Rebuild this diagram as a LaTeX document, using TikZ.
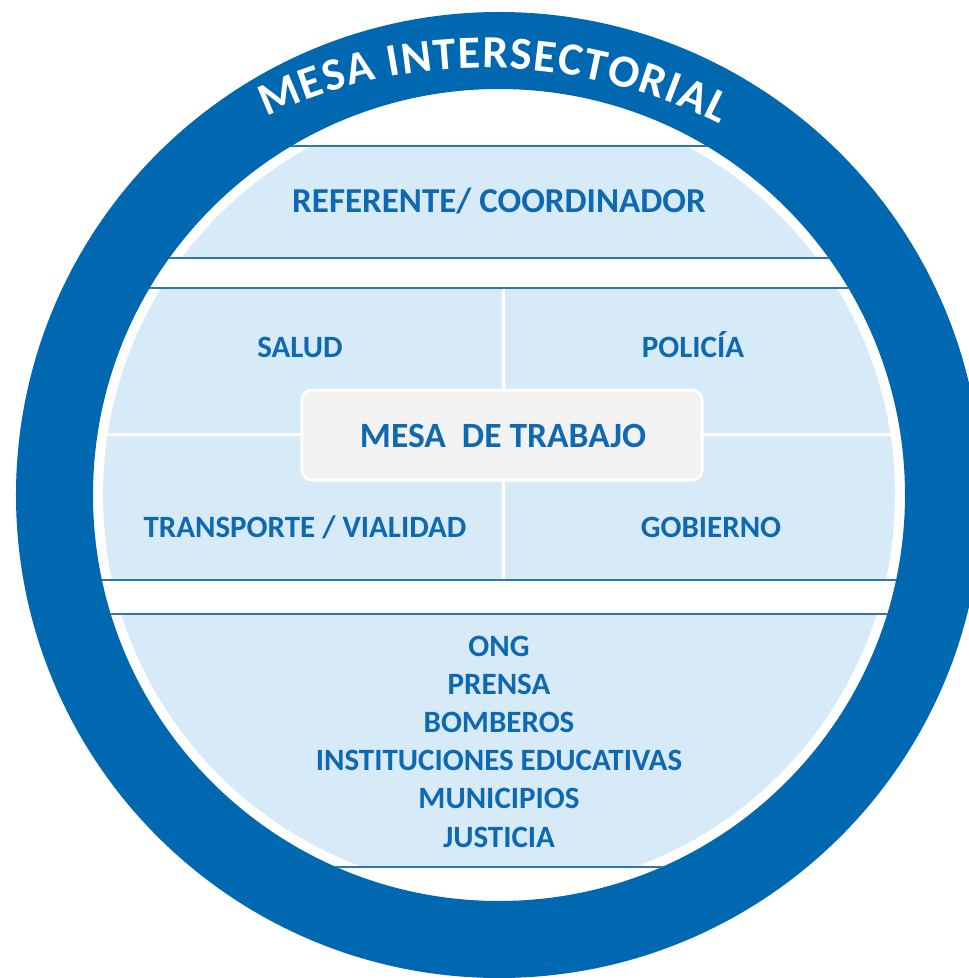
\documentclass[tikz,border=0pt]{standalone}
\usepackage{fontspec}
\setmainfont{Carlito}
\usetikzlibrary{calc,decorations.text}
\definecolor{ringblue}{RGB}{0,103,177}
\definecolor{bandblue}{RGB}{214,234,248}
\definecolor{lineblue}{RGB}{46,117,182}
\definecolor{textblue}{RGB}{14,105,178}
\definecolor{boxgray}{RGB}{242,242,242}

\begin{document}
\begin{tikzpicture}[x=1pt,y=1pt,
  lbl/.style={text=textblue,font=\bfseries\fontsize{31}{38}\selectfont,anchor=base,inner sep=0pt},
  edge/.style={lineblue,line width=2pt},
  split/.style={white,line width=3pt}]
\useasboundingbox (-499,-483) rectangle (470,495);
\fill[white] (-499,-483) rectangle (470,495);
\coordinate (O) at (0,0); \coordinate (T) at (-14,-90);
\fill[ringblue,even odd rule] (O) circle (483) (O) circle (406);
\begin{scope}
\clip (O) circle (396);
\fill[bandblue] (-400,237) rectangle (400,349);
\fill[bandblue] (-400,-85) rectangle (400,207);
\fill[bandblue] (-400,-372) rectangle (400,-119);
\draw[split] (5,207) -- (5,-85); \draw[split] (-400,61) -- (400,61);
\end{scope}
\begin{scope}
\clip (O) circle (406);
\foreach \y in {349,237,207,-85,-119,-372} \draw[edge] (-410,\y) -- (410,\y);
\end{scope}
\path[decorate,decoration={text along path,text color=white,text align=fit to path,
  text={|\bfseries\fontsize{46}{46}\selectfont|MESA INTERSECTORIAL}}]
  ($(T)+(115:517)$) arc[start angle=115,end angle=63,radius=517];
\node[draw=white,line width=3pt,fill=boxgray,rounded corners=10pt,minimum width=400,minimum height=90] (trabajo) at (3,60) {};
\node[lbl,font=\bfseries\fontsize{35.5}{35.5}\selectfont] (mesa) at (4,48) {MESA\ \ DE TRABAJO};
\node[lbl,font=\bfseries\fontsize{35}{35}\selectfont] (ref) at (0,282) {REFERENTE/ COORDINADOR};
\node[lbl] (salud) at (-199,138) {SALUD};
\node[lbl] (policia) at (194,138) {POLICÍA};
\node[lbl] (transporte) at (-194,-42) {TRANSPORTE / VIALIDAD};
\node[lbl] (gobierno) at (212,-42) {GOBIERNO};
\foreach \t [count=\i] in {ONG,PRENSA,BOMBEROS,INSTITUCIONES EDUCATIVAS,MUNICIPIOS,JUSTICIA}
  \node[lbl] (org\i) at (0,{-161-38.2*(\i-1)}) {\t};
\end{tikzpicture}
\end{document}
